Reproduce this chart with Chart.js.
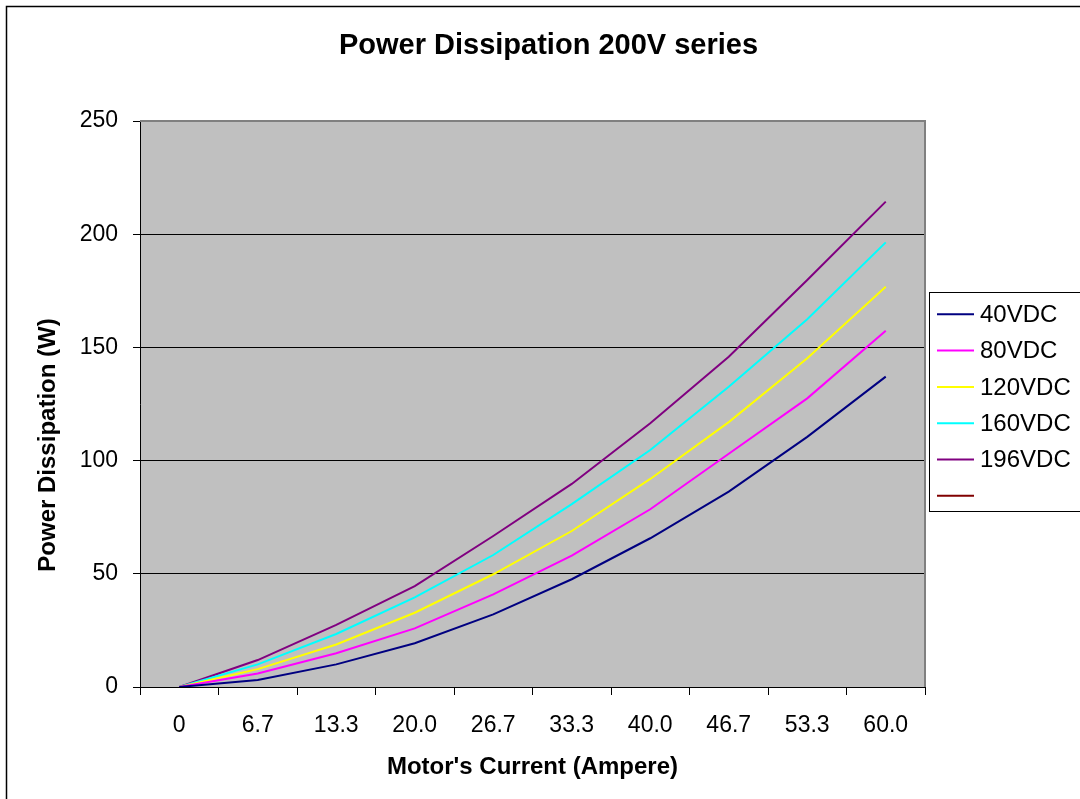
<!DOCTYPE html>
<html>
<head>
<meta charset="utf-8">
<script src="https://cdn.jsdelivr.net/npm/chart.js@4.4.1/dist/chart.umd.min.js"></script>
<style>
html,body{margin:0;padding:0;overflow:hidden;background:#fff;width:1080px;height:799px}
#wrap{position:relative;width:1097px;height:799px}
canvas{display:block}
</style>
</head>
<body>
<div id="wrap"><canvas id="c" width="1097" height="799"></canvas></div>
<script>
// ---- data ----
const categories = ['0', '6.7', '13.3', '20.0', '26.7', '33.3', '40.0', '46.7', '53.3', '60.0'];
const seriesNames = ['40VDC', '80VDC', '120VDC', '160VDC', '196VDC', ''];
const v40VDC  = [0, 3.1, 10.0, 19.3, 32.1, 47.6, 65.7, 86.3, 110.5, 137.1];
const v80VDC  = [0, 6.0, 14.9, 25.9, 40.9, 58.0, 78.5, 103.0, 127.5, 157.4];
const v120VDC = [0, 7.9, 18.8, 32.8, 49.8, 68.9, 91.9, 117.0, 145.2, 176.8];
const v160VDC = [0, 10.0, 23.4, 39.6, 58.3, 80.8, 104.7, 132.6, 162.4, 196.4];
const v196VDC = [0, 11.9, 27.4, 44.6, 66.7, 89.7, 116.5, 145.9, 179.8, 214.4];
const vBlank  = [];
const yMin = 0, yMax = 250, yStep = 50;
const chartTitle = 'Power Dissipation 200V series';
const xTitle = "Motor's Current (Ampere)";
const yTitle = 'Power Dissipation (W)';

const seriesValues = [v40VDC, v80VDC, v120VDC, v160VDC, v196VDC, vBlank];
const seriesColors = ['#000080', '#FF00FF', '#FFFF00', '#00FFFF', '#800080', '#800000'];

const FONT = "'Liberation Sans', Arial, sans-serif";

const decor = {
  id: 'decor',
  beforeDraw(chart) {
    const {ctx, chartArea: a} = chart;
    ctx.save();
    ctx.fillStyle = '#C0C0C0';
    ctx.fillRect(a.left, a.top, a.right - a.left, a.bottom - a.top);
    ctx.restore();
  },
  beforeDatasetsDraw(chart) {
    const {ctx, chartArea: a} = chart;
    ctx.save();
    ctx.strokeStyle = '#808080';
    ctx.lineWidth = 2;
    ctx.beginPath();
    ctx.moveTo(a.left, a.top);
    ctx.lineTo(a.right, a.top);
    ctx.lineTo(a.right, a.bottom);
    ctx.stroke();
    ctx.restore();
  },
  afterDraw(chart) {
    const {ctx, chartArea: a} = chart;
    ctx.save();
    // outer chart border
    ctx.strokeStyle = '#000';
    ctx.lineWidth = 1.5;
    ctx.strokeRect(6.5, 6.5, 1085, 820);
    // y axis title
    ctx.translate(48, 445);
    ctx.rotate(-Math.PI / 2);
    ctx.fillStyle = '#000';
    ctx.font = 'bold 24px ' + FONT;
    ctx.textAlign = 'center';
    ctx.textBaseline = 'middle';
    ctx.fillText(yTitle, 0, 0);
    ctx.restore();
    // legend
    ctx.save();
    ctx.fillStyle = '#fff';
    ctx.fillRect(929.5, 292.5, 200, 219);
    ctx.strokeStyle = '#000';
    ctx.lineWidth = 1;
    ctx.strokeRect(929.5, 292.5, 200, 219);
    ctx.font = '24px ' + FONT;
    ctx.textAlign = 'left';
    ctx.textBaseline = 'middle';
    chart.data.datasets.forEach((ds, i) => {
      const y = 314.3 + i * 36.3;
      ctx.strokeStyle = ds.borderColor;
      ctx.lineWidth = 2;
      ctx.beginPath();
      ctx.moveTo(937, y);
      ctx.lineTo(974, y);
      ctx.stroke();
      ctx.fillStyle = '#000';
      ctx.fillText(ds.label, 980, y + 1);
    });
    ctx.restore();
  }
};

new Chart(document.getElementById('c'), {
  type: 'line',
  data: {
    labels: categories,
    datasets: seriesNames.map((name, i) => ({
      label: name,
      data: seriesValues[i],
      borderColor: seriesColors[i],
      backgroundColor: seriesColors[i],
      borderWidth: 2,
      pointRadius: 0,
      tension: 0,
      fill: false
    }))
  },
  options: {
    responsive: false,
    animation: false,
    devicePixelRatio: 1,
    layout: {padding: 0},
    plugins: {
      legend: {display: false},
      tooltip: {enabled: false},
      title: {
        display: true,
        text: chartTitle,
        color: '#000',
        font: {family: FONT, size: 29, weight: 'bold', lineHeight: 1.2},
        padding: {top: 28.6, bottom: 57.6}
      }
    },
    scales: {
      x: {
        type: 'category',
        offset: true,
        grid: {offset: true, drawOnChartArea: false, drawTicks: true, tickLength: 8, color: '#000', lineWidth: 1},
        border: {display: true, color: '#000', width: 1},
        ticks: {color: '#000', font: {family: FONT, size: 23}, padding: 17, maxRotation: 0, autoSkip: false},
        title: {display: true, text: xTitle, color: '#000', font: {family: FONT, size: 24, weight: 'bold', lineHeight: 1.2}, padding: {top: 0, bottom: 17.6}},
        afterFit(s) { s.height = 112; }
      },
      y: {
        min: yMin,
        max: yMax,
        ticks: {stepSize: yStep, color: '#000', font: {family: FONT, size: 23}, padding: 15},
        grid: {color: '#000', tickColor: '#000', tickLength: 7, lineWidth: 1},
        border: {display: true, color: '#000', width: 1},
        afterFit(s) { s.width = 140; }
      },
      y2: {
        position: 'right',
        display: true,
        grid: {display: false},
        ticks: {display: false},
        border: {display: false},
        afterFit(s) { s.width = 1097 - 925; }
      }
    }
  },
  plugins: [decor]
});
</script>
</body>
</html>
